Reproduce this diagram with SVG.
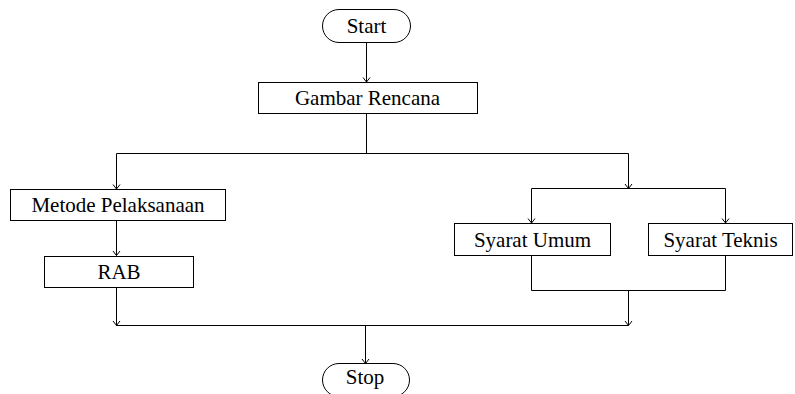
<svg xmlns="http://www.w3.org/2000/svg" width="795" height="394" viewBox="0 0 795 394">
  <defs>
    <!-- open V arrowhead, tip at the end of the line -->
    <marker id="arrow" markerWidth="10" markerHeight="10" refX="8" refY="5" orient="auto" markerUnits="userSpaceOnUse" viewBox="0 0 10 10">
      <path d="M3.5,1.5 L8,5 L3.5,8.5" fill="none" stroke="#000" stroke-width="1"/>
    </marker>
    <style>
      .box { fill: #fff; stroke: #000; stroke-width: 1; }
      .lbl { font-family: 'Liberation Serif', 'Times New Roman', Times, 'DejaVu Serif', serif; font-size: 21px; fill: #000; text-anchor: middle; }
      .ln { fill: none; stroke: #000; stroke-width: 1; }
      .arr { fill: none; stroke: #000; stroke-width: 1; marker-end: url(#arrow); }
    </style>
  </defs>
  <rect width="795" height="394" fill="#fff"/>

  <g id="connectors">
    <line class="arr" x1="366.5" y1="42.5" x2="366.5" y2="82"/>
    <line class="ln" x1="366.5" y1="113.5" x2="366.5" y2="153.5"/>
    <line class="ln" x1="116.5" y1="153.5" x2="628.5" y2="153.5"/>
    <line class="arr" x1="116.5" y1="153.5" x2="116.5" y2="189"/>
    <line class="arr" x1="628.5" y1="153.5" x2="628.5" y2="188.5"/>
    <line class="ln" x1="531.5" y1="188.5" x2="725.5" y2="188.5"/>
    <line class="arr" x1="531.5" y1="188.5" x2="531.5" y2="223"/>
    <line class="arr" x1="725.5" y1="188.5" x2="725.5" y2="223"/>
    <line class="arr" x1="116.5" y1="221" x2="116.5" y2="255.5"/>
    <polyline class="ln" points="531.5,256 531.5,290.5 725.5,290.5 725.5,256"/>
    <line class="arr" x1="116.5" y1="288" x2="116.5" y2="325.5"/>
    <line class="arr" x1="628.5" y1="290.5" x2="628.5" y2="325.5"/>
    <line class="ln" x1="116.5" y1="325.5" x2="628.5" y2="325.5"/>
    <line class="arr" x1="365.5" y1="325.5" x2="365.5" y2="363.5"/>
  </g>

  <g id="start">
    <rect class="box" x="322.5" y="9.5" width="88" height="33" rx="16.5" ry="16.5"/>
    <text class="lbl" x="366.5" y="32.5">Start</text>
  </g>
  <g id="gambar-rencana">
    <rect class="box" x="258.5" y="82.5" width="219" height="31"/>
    <text class="lbl" x="367.5" y="104.5">Gambar Rencana</text>
  </g>
  <g id="metode-pelaksanaan">
    <rect class="box" x="10.5" y="189.5" width="215" height="31"/>
    <text class="lbl" x="118" y="212">Metode Pelaksanaan</text>
  </g>
  <g id="rab">
    <rect class="box" x="44.5" y="256.5" width="149" height="31"/>
    <text class="lbl" x="119" y="279">RAB</text>
  </g>
  <g id="syarat-umum">
    <rect class="box" x="454.5" y="223.5" width="156" height="32"/>
    <text class="lbl" x="532.5" y="247">Syarat Umum</text>
  </g>
  <g id="syarat-teknis">
    <rect class="box" x="648.5" y="223.5" width="144" height="32"/>
    <text class="lbl" x="720.5" y="247">Syarat Teknis</text>
  </g>
  <g id="stop">
    <rect class="box" x="322.5" y="363.5" width="87" height="33" rx="16.5" ry="16.5"/>
    <text class="lbl" x="365" y="384">Stop</text>
  </g>
</svg>
